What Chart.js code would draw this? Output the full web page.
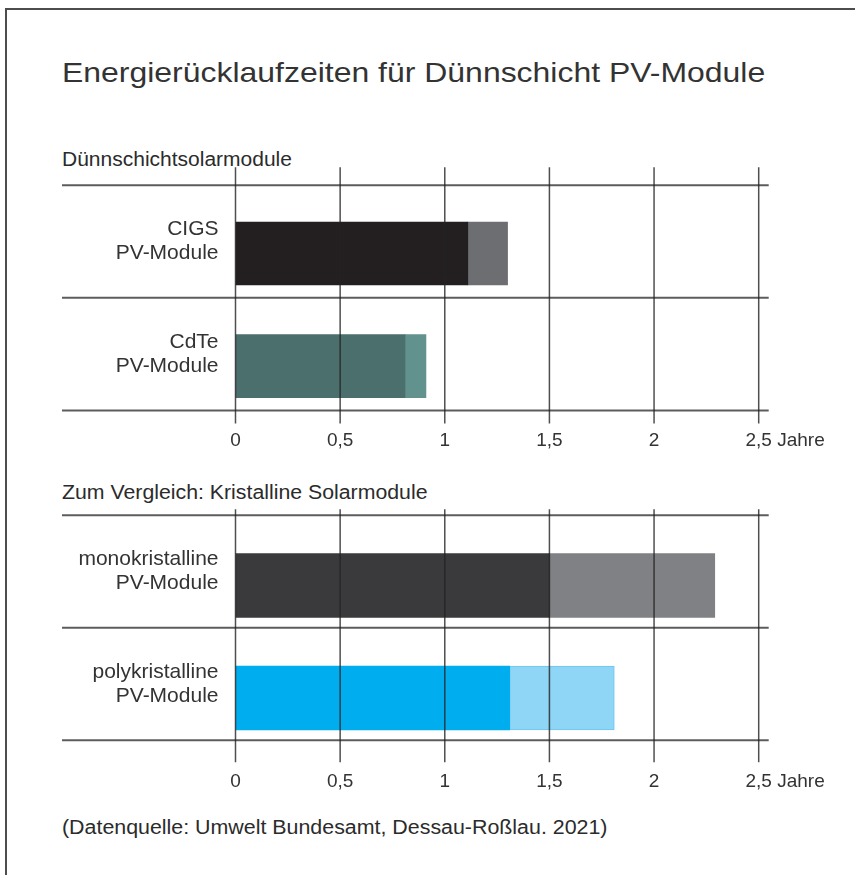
<!DOCTYPE html>
<html lang="de">
<head>
<meta charset="utf-8">
<title>Energierücklaufzeiten für Dünnschicht PV-Module</title>
<script src="https://cdn.jsdelivr.net/npm/chart.js@4.4.1/dist/chart.umd.min.js"></script>
<style>
  html, body { margin: 0; padding: 0; background: #fff; }
  body {
    width: 855px; height: 875px; position: relative; overflow: hidden;
    font-family: "Liberation Sans", Arial, Helvetica, sans-serif; color: #2b2b2b;
  }
  .frame {
    position: absolute; left: 5px; top: 8px; width: 860px; height: 880px;
    border-top: 2px solid #4d4d4d; border-left: 2px solid #4d4d4d;
  }
  .txt { position: absolute; left: 62px; white-space: nowrap; line-height: 1; transform-origin: 0 0; }
  #title { top: 59px; font-size: 28px; transform: scaleX(1.141); color: #333; }
  #head1 { top: 149px; font-size: 20px; transform: scaleX(1.05); }
  #head2 { top: 482px; font-size: 20px; transform: scaleX(1.064); }
  #source { top: 817px; font-size: 20px; transform: scaleX(1.069); }
  #wrap1 { position: absolute; left: 0; top: 150px; width: 855px; height: 320px; }
  #wrap2 { position: absolute; left: 0; top: 480px; width: 855px; height: 330px; }
</style>
</head>
<body>
<div class="frame"></div>
<div class="txt" id="title">Energierücklaufzeiten für Dünnschicht PV-Module</div>
<div class="txt" id="head1">Dünnschichtsolarmodule</div>
<div class="txt" id="head2">Zum Vergleich: Kristalline Solarmodule</div>
<div class="txt" id="source">(Datenquelle: Umwelt Bundesamt, Dessau-Roßlau. 2021)</div>
<div id="wrap1"><canvas id="chartThin"></canvas></div>
<div id="wrap2"><canvas id="chartCrystal"></canvas></div>

<script>
// Energierücklaufzeit in Jahren: dunkler Balken = untere Angabe, heller Teil reicht bis zur oberen
const thinLabels = [['CIGS', 'PV-Module'], ['CdTe', 'PV-Module']];
const thinMin = [1.11, 0.81];
const thinMax = [1.3, 0.91];
const thinDark = ['#231f20', '#4a6f6c'];
const thinLight = ['#6d6e71', '#62928e'];

const crystalLabels = [['monokristalline', 'PV-Module'], ['polykristalline', 'PV-Module']];
const crystalMin = [1.5, 1.31];
const crystalMax = [2.29, 1.81];
const crystalDark = ['#3a3a3c', '#00aeef'];
const crystalLight = ['#808184', '#8fd5f5'];
const crystalEdge = ['#808184', '#6cc4ea'];

const yearTicks = [0, 0.5, 1, 1.5, 2, 2.5];
const unitLabel = 'Jahre';

const FONT = '"Liberation Sans", Arial, Helvetica, sans-serif';
const TICK_SIZE = 19;

// Zeilenlinien, senkrechte Gitterlinien und "Jahre" hinter der letzten Achsbeschriftung
const framePlugin = {
  id: 'frameLines',
  afterDatasetsDraw(chart, args, o) {
    const { ctx, scales: { x, y } } = chart;
    const n = chart.data.labels.length;
    const rows = [];
    for (let i = 0; i <= n; i++) rows.push(y.getPixelForValue(i - 0.5) - o.shift);
    ctx.save();
    ctx.strokeStyle = '#5c5c5c';
    ctx.lineWidth = 2;
    rows.forEach(py => {
      ctx.beginPath();
      ctx.moveTo(62, py);
      ctx.lineTo(x.getPixelForValue(yearTicks[yearTicks.length - 1]) + 10, py);
      ctx.stroke();
    });
    ctx.strokeStyle = 'rgba(35,35,35,0.8)';
    ctx.lineWidth = 1.5;
    yearTicks.forEach(v => {
      const px = x.getPixelForValue(v);
      ctx.beginPath();
      ctx.moveTo(px, rows[0] - o.above);
      ctx.lineTo(px, rows[n] + o.below);
      ctx.stroke();
    });
    ctx.restore();
  },
  afterDraw(chart, args, o) {
    const { ctx, scales: { x } } = chart;
    const last = yearTicks[yearTicks.length - 1];
    ctx.save();
    ctx.font = TICK_SIZE + 'px ' + FONT;
    ctx.fillStyle = '#333';
    ctx.textBaseline = 'middle';
    ctx.textAlign = 'left';
    const half = ctx.measureText(String(last).replace('.', ',')).width / 2;
    const space = ctx.measureText(' ').width;
    ctx.fillText(unitLabel, x.getPixelForValue(last) + half + space, x.top + o.tickPad + TICK_SIZE * 1.2 / 2);
    ctx.restore();
  }
};

function makeChart(id, labels, lo, hi, dark, light, edge, g) {
  return new Chart(document.getElementById(id), {
    type: 'bar',
    data: {
      labels,
      datasets: [
        { data: lo, backgroundColor: dark, barThickness: g.bar, borderWidth: 0 },
        { data: lo.map((v, i) => [v, hi[i]]), backgroundColor: light, barThickness: g.bar,
          borderColor: edge || light, borderWidth: edge ? [0, 1] : 0, borderSkipped: false }
      ]
    },
    options: {
      indexAxis: 'y',
      responsive: true, maintainAspectRatio: false,
      animation: false,
      events: [],
      layout: { padding: { top: g.padTop, right: 96.3, left: 0, bottom: 0 } },
      plugins: {
        legend: { display: false },
        tooltip: { enabled: false },
        frameLines: { shift: g.shift, above: g.above, below: g.below, tickPad: g.tickPad }
      },
      scales: {
        x: {
          min: 0, max: 2.5,
          grid: { display: false, drawTicks: false },
          border: { display: false },
          afterBuildTicks: s => { s.ticks = yearTicks.map(v => ({ value: v })); },
          afterFit: s => { s.height = g.axisH; },
          ticks: {
            autoSkip: false, maxRotation: 0, padding: g.tickPad,
            color: '#333', font: { family: FONT, size: TICK_SIZE },
            callback: v => String(v).replace('.', ',')
          }
        },
        y: {
          stacked: true,
          grid: { display: false, drawTicks: false },
          border: { display: false },
          afterFit: s => { s.width = 235.5; },
          ticks: {
            padding: 17, labelOffset: -g.shift,
            color: '#333', font: { family: FONT, size: 21, lineHeight: '24px' }
          }
        }
      }
    },
    plugins: [framePlugin]
  });
}

makeChart('chartThin', thinLabels, thinMin, thinMax, thinDark, thinLight, null,
  { bar: 63, padTop: 47.15, axisH: 47.5, tickPad: 6.5, shift: 12, above: 18, below: 13 });
makeChart('chartCrystal', crystalLabels, crystalMin, crystalMax, crystalDark, crystalLight, crystalEdge,
  { bar: 64, padTop: 49.25, axisH: 55.75, tickPad: 16, shift: 14, above: 6, below: 22 });
</script>
</body>
</html>
